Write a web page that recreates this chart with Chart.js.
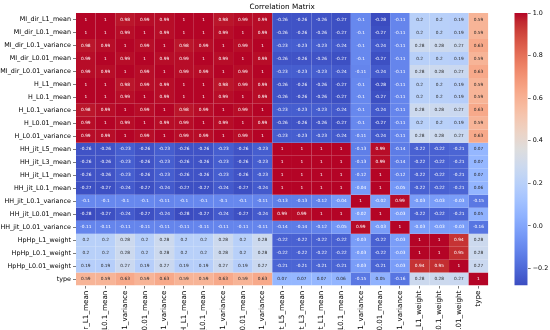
<!DOCTYPE html>
<html>
<head>
<meta charset="utf-8">
<script src="https://cdn.jsdelivr.net/npm/chart.js@4.4.1/dist/chart.umd.min.js"></script>
<style>
  html, body { margin: 0; padding: 0; background: #fff; overflow: hidden; }
  #wrap { position: relative; width: 550px; height: 330px; overflow: hidden; background: #fff; }
  #main { position: absolute; left: 0; top: 0; }
  #cbar { position: absolute; left: 500px; top: 0; }
</style>
</head>
<body>
<div id="wrap">
  <canvas id="main" width="550" height="400"></canvas>
  <canvas id="cbar" width="50" height="330"></canvas>
</div>
<script>
// ---------------- DATA ----------------
const features = [
  'MI_dir_L1_mean', 'MI_dir_L0.1_mean', 'MI_dir_L0.1_variance', 'MI_dir_L0.01_mean', 'MI_dir_L0.01_variance',
  'H_L1_mean', 'H_L0.1_mean', 'H_L0.1_variance', 'H_L0.01_mean', 'H_L0.01_variance',
  'HH_jit_L5_mean', 'HH_jit_L3_mean', 'HH_jit_L1_mean', 'HH_jit_L0.1_mean', 'HH_jit_L0.1_variance',
  'HH_jit_L0.01_mean', 'HH_jit_L0.01_variance', 'HpHp_L1_weight', 'HpHp_L0.1_weight', 'HpHp_L0.01_weight', 'type'
];
const corrRows = [
  [1,1,0.98,0.99,0.99,1,1,0.98,0.99,0.99,-0.26,-0.26,-0.26,-0.27,-0.1,-0.28,-0.11,0.2,0.2,0.19,0.59],
  [1,1,0.99,1,0.99,1,1,0.99,1,0.99,-0.26,-0.26,-0.26,-0.27,-0.1,-0.27,-0.11,0.2,0.2,0.19,0.59],
  [0.98,0.99,1,0.99,1,0.98,0.99,1,0.99,1,-0.23,-0.23,-0.23,-0.24,-0.1,-0.24,-0.11,0.28,0.28,0.27,0.63],
  [0.99,1,0.99,1,0.99,0.99,1,0.99,1,0.99,-0.26,-0.26,-0.26,-0.27,-0.1,-0.27,-0.11,0.2,0.2,0.19,0.59],
  [0.99,0.99,1,0.99,1,0.99,0.99,1,0.99,1,-0.23,-0.23,-0.23,-0.24,-0.11,-0.24,-0.11,0.28,0.28,0.27,0.63],
  [1,1,0.98,0.99,0.99,1,1,0.98,0.99,0.99,-0.26,-0.26,-0.26,-0.27,-0.1,-0.28,-0.11,0.2,0.2,0.19,0.59],
  [1,1,0.99,1,0.99,1,1,0.99,1,0.99,-0.26,-0.26,-0.26,-0.27,-0.1,-0.27,-0.11,0.2,0.2,0.19,0.59],
  [0.98,0.99,1,0.99,1,0.98,0.99,1,0.99,1,-0.23,-0.23,-0.23,-0.24,-0.1,-0.24,-0.11,0.28,0.28,0.27,0.63],
  [0.99,1,0.99,1,0.99,0.99,1,0.99,1,0.99,-0.26,-0.26,-0.26,-0.27,-0.1,-0.27,-0.11,0.2,0.2,0.19,0.59],
  [0.99,0.99,1,0.99,1,0.99,0.99,1,0.99,1,-0.23,-0.23,-0.23,-0.24,-0.11,-0.24,-0.11,0.28,0.28,0.27,0.63],
  [-0.26,-0.26,-0.23,-0.26,-0.23,-0.26,-0.26,-0.23,-0.26,-0.23,1,1,1,1,-0.13,0.99,-0.14,-0.22,-0.22,-0.21,0.07],
  [-0.26,-0.26,-0.23,-0.26,-0.23,-0.26,-0.26,-0.23,-0.26,-0.23,1,1,1,1,-0.13,0.99,-0.14,-0.22,-0.22,-0.21,0.07],
  [-0.26,-0.26,-0.23,-0.26,-0.23,-0.26,-0.26,-0.23,-0.26,-0.23,1,1,1,1,-0.12,1,-0.12,-0.22,-0.22,-0.21,0.07],
  [-0.27,-0.27,-0.24,-0.27,-0.24,-0.27,-0.27,-0.24,-0.27,-0.24,1,1,1,1,-0.04,1,-0.05,-0.22,-0.22,-0.21,0.06],
  [-0.1,-0.1,-0.1,-0.1,-0.11,-0.1,-0.1,-0.1,-0.1,-0.11,-0.13,-0.13,-0.12,-0.04,1,-0.02,0.99,-0.03,-0.03,-0.03,-0.15],
  [-0.28,-0.27,-0.24,-0.27,-0.24,-0.28,-0.27,-0.24,-0.27,-0.24,0.99,0.99,1,1,-0.02,1,-0.03,-0.22,-0.22,-0.21,0.05],
  [-0.11,-0.11,-0.11,-0.11,-0.11,-0.11,-0.11,-0.11,-0.11,-0.11,-0.14,-0.14,-0.12,-0.05,0.99,-0.03,1,-0.03,-0.03,-0.03,-0.16],
  [0.2,0.2,0.28,0.2,0.28,0.2,0.2,0.28,0.2,0.28,-0.22,-0.22,-0.22,-0.22,-0.03,-0.22,-0.03,1,1,0.94,0.28],
  [0.2,0.2,0.28,0.2,0.28,0.2,0.2,0.28,0.2,0.28,-0.22,-0.22,-0.22,-0.22,-0.03,-0.22,-0.03,1,1,0.95,0.28],
  [0.19,0.19,0.27,0.19,0.27,0.19,0.19,0.27,0.19,0.27,-0.21,-0.21,-0.21,-0.21,-0.03,-0.21,-0.03,0.94,0.95,1,0.27],
  [0.59,0.59,0.63,0.59,0.63,0.59,0.59,0.63,0.59,0.63,0.07,0.07,0.07,0.06,-0.15,0.05,-0.16,0.28,0.28,0.27,1]
];
const colorbarTicks = [-0.2, 0, 0.2, 0.4, 0.6, 0.8, 1.0];
const VMIN = -0.28, VMAX = 1.0;

// ---------------- COLORMAP (coolwarm) ----------------
const COOLWARM = [
  [59,76,192],[68,90,204],[77,104,215],[87,117,225],[98,130,234],[108,142,241],[119,154,247],[130,165,251],
  [141,176,254],[152,185,255],[163,194,255],[174,201,253],[184,208,249],[194,213,244],[204,217,238],[213,219,230],
  [221,221,221],[229,216,209],[236,211,197],[241,204,185],[245,196,173],[247,187,160],[247,177,148],[247,166,135],
  [244,154,123],[241,141,111],[236,127,99],[229,112,88],[222,96,77],[213,80,66],[203,62,56],[192,40,47],[180,4,38]
];
function cmapRGB(v) {
  let t = (v - VMIN) / (VMAX - VMIN);
  t = Math.max(0, Math.min(1, t));
  const pos = t * (COOLWARM.length - 1);
  const i = Math.min(Math.floor(pos), COOLWARM.length - 2);
  const f = pos - i;
  const a = COOLWARM[i], b = COOLWARM[i + 1];
  return [0, 1, 2].map(k => a[k] + (b[k] - a[k]) * f);
}
function rgbStr(c) { return 'rgb(' + c.map(x => Math.round(x)).join(',') + ')'; }
function textColorFor(c) {
  const lin = c.map(x => { x /= 255; return x <= 0.03928 ? x / 12.92 : Math.pow((x + 0.055) / 1.055, 2.4); });
  const lum = 0.2126 * lin[0] + 0.7152 * lin[1] + 0.0722 * lin[2];
  return lum > 0.408 ? '#262626' : '#ffffff';
}

const FONT = 'DejaVu Sans';

// one floating-bar dataset per heatmap row
const datasets = corrRows.map((row, r) => ({
  label: features[r],
  data: row.map(() => [r, r + 1]),
  values: row,
  backgroundColor: row.map(v => rgbStr(cmapRGB(v))),
  borderWidth: 0,
  inflateAmount: 0,
  barPercentage: 1,
  categoryPercentage: 1,
  grouped: false
}));

const annotate = {
  id: 'annotate',
  afterDatasetsDraw(chart) {
    const ctx = chart.ctx;
    ctx.save();
    ctx.font = '4.3px "' + FONT + '"';
    ctx.textAlign = 'center';
    ctx.textBaseline = 'middle';
    chart.data.datasets.forEach((ds, r) => {
      const meta = chart.getDatasetMeta(r);
      meta.data.forEach((el, c) => {
        const v = ds.values[c];
        ctx.fillStyle = textColorFor(cmapRGB(v));
        ctx.fillText(String(v), el.x, (el.y + el.base) / 2);
      });
    });
    ctx.restore();
  }
};

new Chart(document.getElementById('main'), {
  type: 'bar',
  data: { labels: features, datasets },
  options: {
    responsive: false,
    maintainAspectRatio: false,
    animation: false,
    layout: { padding: { left: 0, right: 61.7, top: 0, bottom: 0 } },
    plugins: {
      legend: { display: false },
      tooltip: { enabled: false },
      title: {
        display: true,
        text: 'Correlation Matrix',
        fullSize: false,
        color: '#000',
        font: { family: FONT, size: 7.3, weight: 'normal', lineHeight: 1.2 },
        padding: { top: 2.5, bottom: 1.74 }
      }
    },
    scales: {
      x: {
        type: 'category',
        offset: true,
        grid: { display: true, offset: false, drawOnChartArea: false, drawTicks: true, tickLength: 3, color: '#222', lineWidth: 0.6 },
        border: { display: false },
        ticks: { autoSkip: false, maxRotation: 90, minRotation: 90, padding: 2, color: '#000', font: { family: FONT, size: 7.2 } },
        afterFit(scale) { scale.height = 114.4; }
      },
      y: {
        type: 'linear',
        reverse: true,
        min: 0,
        max: features.length,
        afterBuildTicks(scale) { scale.ticks = features.map((_, i) => ({ value: i + 0.5 })); },
        grid: { display: true, drawOnChartArea: false, drawTicks: true, tickLength: 3, color: '#222', lineWidth: 0.6 },
        border: { display: false },
        ticks: {
          autoSkip: false, padding: 2, color: '#000', font: { family: FONT, size: 6.4 },
          callback: (value) => features[Math.floor(value)]
        },
        afterFit(scale) { scale.width = 76; }
      }
    }
  },
  plugins: [annotate]
});

// ---------------- COLORBAR ----------------
new Chart(document.getElementById('cbar'), {
  type: 'bar',
  data: {
    labels: ['cb'],
    datasets: [{
      data: [[VMIN, VMAX]],
      borderWidth: 0,
      inflateAmount: 0,
      barPercentage: 1,
      categoryPercentage: 1,
      backgroundColor: (ctx) => {
        const chart = ctx.chart;
        if (!chart.chartArea) return null;
        const ys = chart.scales.y;
        const g = chart.ctx.createLinearGradient(0, ys.getPixelForValue(VMIN), 0, ys.getPixelForValue(VMAX));
        COOLWARM.forEach((c, k) => g.addColorStop(k / (COOLWARM.length - 1), rgbStr(c)));
        return g;
      }
    }]
  },
  options: {
    responsive: false,
    maintainAspectRatio: false,
    animation: false,
    layout: { padding: { left: 14.3, right: 0, top: 13, bottom: 44.4 } },
    plugins: { legend: { display: false }, tooltip: { enabled: false }, title: { display: false } },
    scales: {
      x: { display: false },
      y: {
        type: 'linear',
        position: 'right',
        min: VMIN,
        max: VMAX,
        afterBuildTicks(scale) { scale.ticks = colorbarTicks.map(v => ({ value: v })); },
        grid: { display: true, drawOnChartArea: false, drawTicks: true, tickLength: 3, color: '#222', lineWidth: 0.6 },
        border: { display: false },
        ticks: {
          autoSkip: false, padding: 2, color: '#000', font: { family: FONT, size: 6.4 },
          callback: (v) => (v < 0 ? '\u2212' : '') + Math.abs(v).toFixed(1)
        },
        afterFit(scale) { scale.width = 50 - 14.3 - 13.4; }
      }
    }
  }
});
</script>
</body>
</html>
